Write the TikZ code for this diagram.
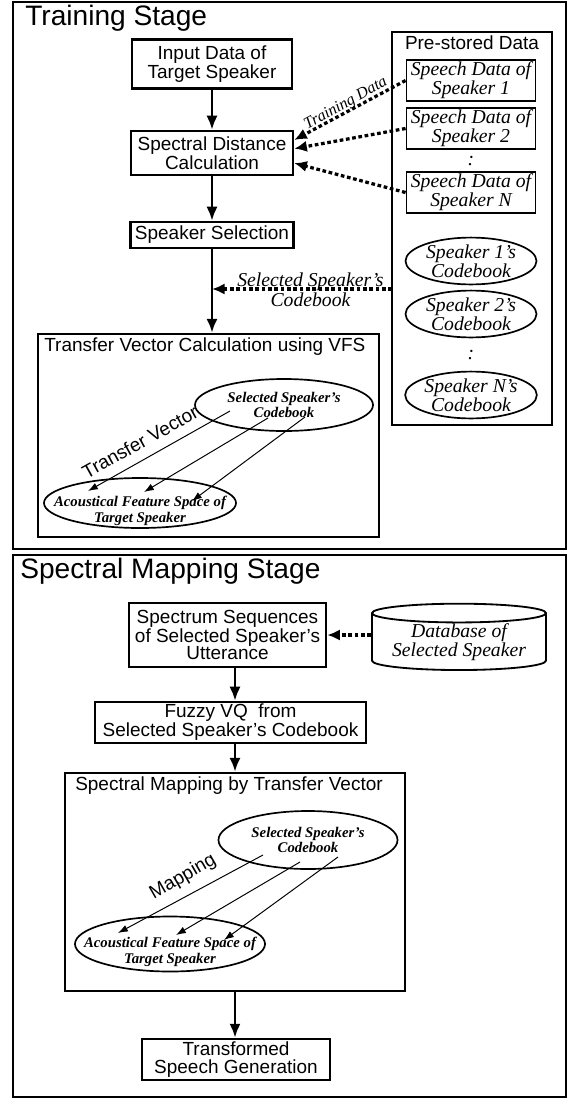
\documentclass[tikz,border=0pt]{standalone}
\usepackage{fontspec}
\setmainfont{Liberation Serif}
\setsansfont{Liberation Sans}
\usepackage{tikz}
\usetikzlibrary{arrows.meta,positioning,calc,shapes.geometric}

\begin{document}
\begin{tikzpicture}[x=0.025cm,y=-0.025cm,
  stagebox/.style={draw,line width=1.9pt},
  panel/.style={draw,line width=1.5pt,inner sep=0pt},
  procbox/.style={draw,line width=1.7pt,align=center,inner sep=0pt,font=\sffamily\fontsize{13.5}{12.5}\selectfont},
  databox/.style={draw,line width=1.3pt,align=center,inner sep=0pt,minimum width=3.225cm,minimum height=1.025cm,font=\itshape\fontsize{14}{12.5}\selectfont},
  cbook/.style={ellipse,draw,line width=1.2pt,align=center,inner sep=0pt,minimum width=3.275cm,minimum height=1.075cm,font=\itshape\fontsize{14}{12.5}\selectfont},
  vqspace/.style={ellipse,draw,line width=1.2pt,align=center,inner xsep=-0.5cm,inner ysep=0pt,font=\bfseries\itshape\fontsize{10.5}{11}\selectfont},
  vqtext/.style={inner sep=0pt,align=center,font=\bfseries\itshape\fontsize{10.5}{11}\selectfont},
  flow/.style={-{Latex[length=10pt,width=8pt]},line width=2pt},
  feed/.style={-{Latex[length=9pt,width=8pt]},line width=2.3pt,dash pattern=on 2.6pt off 1.9pt},
  vecline/.style={-{Latex[length=7pt,width=5pt]},line width=0.7pt},
  stagetitle/.style={anchor=base west,inner sep=0pt,font=\sffamily\fontsize{20}{22}\selectfont},
  paneltitle/.style={inner sep=0pt,font=\sffamily\fontsize{13.5}{14}\selectfont},
  edgelabel/.style={inner sep=0pt,align=center,font=\itshape\fontsize{14}{12.5}\selectfont}
]
\fill[white] (0,0) rectangle (568,1099);
\useasboundingbox (0,0) rectangle (568,1099);

% training stage
\draw[stagebox] (13,2) rectangle (566,549);
\node[stagetitle] (trainhead) at (25,25) {Training Stage};

\node[procbox,minimum width=4cm,minimum height=1.225cm] (input) at (212,64) {Input Data of\\Target Speaker};
\node[procbox,minimum width=4.05cm,minimum height=1.1cm] (dist) at (212,153) {Spectral Distance\\Calculation};
\node[procbox,minimum width=4.075cm,minimum height=0.65cm] (select) at (212,235) {Speaker Selection};

\node[panel,line width=1.9pt,minimum width=4cm,minimum height=9.825cm] (store) at (472,228.5) {};
\node[paneltitle,anchor=base] (storehead) at (472,49) {Pre-stored Data};
\node[databox] (sd1) at (471,80.5) {Speech Data of\\Speaker 1};
\node[databox] (sd2) at (471,128.5) {Speech Data of\\Speaker 2};
\node[edgelabel] (dots1) at (471,161) {:};
\node[databox] (sdn) at (471,192.5) {Speech Data of\\Speaker N};
\node[cbook] (cb1) at (471,261) {Speaker 1's\\Codebook};
\node[cbook] (cb2) at (471,314) {Speaker 2's\\Codebook};
\node[edgelabel] (dots2) at (471,355) {:};
\node[cbook] (cbn) at (471,395) {Speaker N's\\Codebook};

\draw[flow] (input) -- (dist);
\draw[flow] (dist) -- (select);
\draw[feed] (sd1.west) -- (dist.9);
\draw[feed] (sd2.west) -- (dist.3.5);
\draw[feed] (sdn.west) -- (dist.-7);
\node[edgelabel,font=\itshape\fontsize{11.5}{12}\selectfont,rotate=29] (traindata) at (346,104) {Training Data};

\node[panel,minimum width=8.525cm,minimum height=5.075cm] (tvc) at (208.5,435.5) {};
\node[paneltitle,anchor=base west] (tvchead) at (44,351) {Transfer Vector Calculation using VFS};
\draw[flow] (select.south) -- (select.south |- tvc.north);
\coordinate (pick) at (392,289);
\draw[feed] (pick) -- (pick -| select) node[edgelabel,midway,xshift=6pt,yshift=-0.5pt] {Selected Speaker's\\Codebook};

\node[vqspace,minimum width=4.45cm,minimum height=1.3cm] (selcb) at (284,405) {Selected Speaker's\\Codebook};
\node[vqspace,minimum width=4.8cm,minimum height=1.25cm] (tgt) at (140,503) {};
\node[vqtext] (tgtname) at (140,511) {Acoustical Feature Space of\\Target Speaker};
\draw[vecline] ($(selcb)+(-54,6)$) -- ($(tgt)+(-52,-12)$);
\draw[vecline] ($(selcb)+(-16,13)$) -- ($(tgt)+(4,-11)$);
\draw[vecline] ($(selcb)+(21,12)$) -- ($(tgt)+(52,-2)$);
\node[paneltitle,rotate=29] (tvlabel) at (140,442) {Transfer Vector};

% spectral mapping stage
\draw[stagebox] (13,555) rectangle (566,1097);
\node[stagetitle] (maphead) at (20,578) {Spectral Mapping Stage};

\node[procbox,minimum width=4.925cm,minimum height=1.6cm] (seq) at (227.5,635) {Spectrum Sequences\\of Selected Speaker's\\Utterance};
\node[cylinder,shape border rotate=90,aspect=0.14,draw,line width=1.3pt,minimum width=4.35cm,minimum height=1.15cm,edgelabel] (db) at (459,642) {Database of\\Selected Speaker};
\draw[feed] (seq.east -| db.180) -- (seq.east);

\node[procbox,minimum width=6.775cm,minimum height=1.025cm] (fvq) at (230.5,722.5) {Fuzzy VQ\ \ from\\Selected Speaker's Codebook};
\node[panel,minimum width=8.5cm,minimum height=5.45cm] (map) at (235,882) {};
\node[paneltitle,anchor=base west] (maptitle) at (75,790) {Spectral Mapping by Transfer Vector};
\node[procbox,minimum width=4.7cm,minimum height=1.025cm] (gen) at (236,1059.5) {Transformed\\Speech Generation};

\coordinate (spine) at (235,700);
\draw[flow] (seq.south -| spine) -- (fvq.north -| spine);
\draw[flow] (fvq.south -| spine) -- (map.north -| spine);
\draw[flow] (map.south -| spine) -- (gen.north -| spine);

\node[vqspace,minimum width=4.475cm,minimum height=1.45cm] (selcb2) at (308,840) {Selected Speaker's\\Codebook};
\node[vqspace,minimum width=4.75cm,minimum height=1.375cm] (tgt2) at (170,944) {};
\node[vqtext] (tgtname2) at (170,952) {Acoustical Feature Space of\\Target Speaker};
\draw[vecline] ($(selcb2)+(-45,15)$) -- ($(tgt2)+(-52,-11)$);
\draw[vecline] ($(selcb2)+(-8,22)$) -- ($(tgt2)+(6,-9)$);
\draw[vecline] ($(selcb2)+(30,17)$) -- ($(tgt2)+(54,-4)$);
\node[paneltitle,rotate=30] (maplabel) at (183,877) {Mapping};
\end{tikzpicture}
\end{document}
